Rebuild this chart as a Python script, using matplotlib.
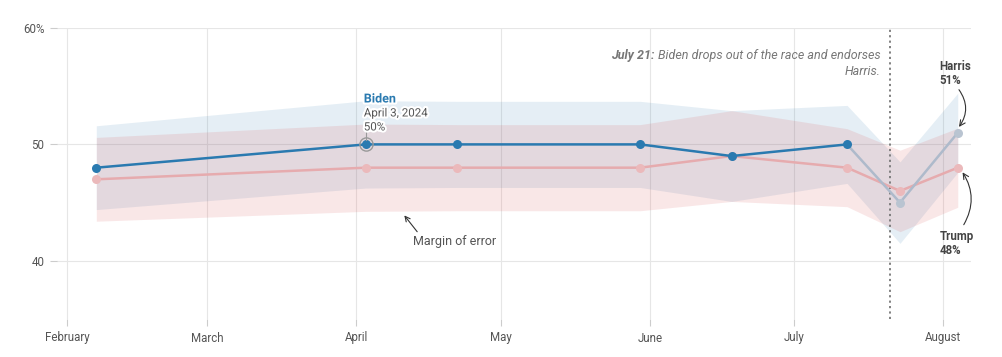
import numpy as np
import matplotlib.pyplot as plt
import matplotlib.patheffects as pe
from matplotlib.transforms import offset_copy
from datetime import datetime

plt.rcParams['font.family'] = ['Roboto', 'DejaVu Sans']

# poll dates and values
dates = ['2024-02-07', '2024-04-03', '2024-04-22', '2024-05-30', '2024-06-18',
         '2024-07-12', '2024-07-23', '2024-08-04']
dem = [48, 50, 50, 50, 49, 50, 45, 51]        # Biden then Harris
trump = [47, 48, 48, 48, 49, 48, 46, 48]
moe = [3.6, 3.75, 3.7, 3.7, 3.9, 3.35, 3.5, 3.4]
n_biden = 6   # first 6 polls are Biden

month_ticks = ['2024-02-01', '2024-03-01', '2024-04-01', '2024-05-01',
               '2024-06-01', '2024-07-01', '2024-08-01']
month_labels = ['February', 'March', 'April', 'May', 'June', 'July', 'August']
y_ticks = [40, 50, 60]
y_labels = ['40', '50', '60%']
dropout = '2024-07-21'

d = [datetime.fromisoformat(s) for s in dates]
dem = np.array(dem, float)
trump = np.array(trump, float)
moe = np.array(moe)

blue = '#2a7ab0'
red = '#d8474a'
grey = '#555555'

fig = plt.figure(figsize=(10.02, 3.57), dpi=100)
ax = fig.add_axes([57/1002, 1-319/357, (971-57)/1002, (319-28)/357])

ax.fill_between(d, dem-moe, dem+moe, color=blue, alpha=0.12, lw=0)
ax.fill_between(d, trump-moe, trump+moe, color=red, alpha=0.13, lw=0)

ax.plot(d, trump, color='#e6abae', lw=1.8, marker='o', ms=6.5, mew=0,
        mfc='#ebb9bb', zorder=3)
ax.plot(d[n_biden-1:], dem[n_biden-1:], color='#aebacb', lw=1.8, marker='o',
        ms=6.5, mew=0, mfc='#b9c4d1', zorder=3, markevery=[1, 2])
ax.plot(d[:n_biden], dem[:n_biden], color=blue, lw=1.8, marker='o', ms=6.5,
        mew=0, zorder=4)
# highlighted point
ax.plot(d[1], dem[1], 'o', ms=9.5, mfc='none', mec='#999999', mew=1, zorder=5)

ax.axvline(datetime.fromisoformat(dropout), color='#777777', lw=1.3,
           ls=(0, (1.2, 1.8)), zorder=2)

halo = [pe.withStroke(linewidth=3, foreground='white')]
tl = offset_copy(ax.transData, fig=fig, x=-2, y=0, units='dots')
ax.plot([d[1], d[1]], [50.35, 51.3], color='#999999', lw=0.8, zorder=4)
ax.text(d[1], 53.9, 'Biden', color=blue, fontsize=9, fontweight='bold',
        ha='left', va='center', path_effects=halo, zorder=6, transform=tl)
ax.text(d[1], 52.7, 'April 3, 2024', color=grey, fontsize=8.3, ha='left',
        va='center', path_effects=halo, zorder=6, transform=tl)
ax.text(d[1], 51.5, '50%', color=grey, fontsize=8.3, ha='left',
        va='center', path_effects=halo, zorder=6, transform=tl)

ax.annotate('Margin of error', xy=(datetime(2024, 4, 11), 43.9),
            xytext=(datetime(2024, 4, 12, 18), 41.7), fontsize=9, color=grey,
            ha='left', va='center',
            arrowprops=dict(arrowstyle='->', color='#333333', lw=0.8,
                            shrinkA=0, shrinkB=0, relpos=(0.08, 1.0)))

# dropout note, bold lead-in placed left of the italic text
xr = datetime(2024, 7, 19)
note = ax.text(xr, 57.6, 'Biden drops out of the race and endorses',
               fontsize=9, color='#777777', fontstyle='italic', ha='right',
               va='center')
ax.text(xr, 56.3, 'Harris.', fontsize=9, color='#777777',
        fontstyle='italic', ha='right', va='center')
fig.canvas.draw()
bb = note.get_window_extent()
x0 = ax.transData.inverted().transform((bb.x0 + 4, 0))[0]
ax.text(x0, 57.6, 'July 21:', fontsize=9, color='#777777',
        fontstyle='italic', fontweight='bold', ha='right', va='center')

xl = datetime(2024, 7, 31, 6)
ax.text(xl, 56.7, 'Harris', fontsize=8.3, color='#444444',
        fontweight='bold', ha='left', va='center')
ax.text(xl, 55.5, '51%', fontsize=8.3, color='#444444',
        fontweight='bold', ha='left', va='center')
ax.text(xl, 42.1, 'Trump', fontsize=8.3, color='#444444',
        fontweight='bold', ha='left', va='center')
ax.text(xl, 40.9, '48%', fontsize=8.3, color='#444444',
        fontweight='bold', ha='left', va='center')
ax.annotate('', xy=(datetime(2024, 8, 4, 6), 51.5),
            xytext=(datetime(2024, 8, 4, 6), 54.7),
            arrowprops=dict(arrowstyle='->', color='#333333', lw=0.8,
                            connectionstyle='arc3,rad=-0.35',
                            shrinkA=0, shrinkB=0))
ax.annotate('', xy=(datetime(2024, 8, 5), 47.6),
            xytext=(datetime(2024, 8, 5, 6), 43.1),
            arrowprops=dict(arrowstyle='->', color='#333333', lw=0.8,
                            connectionstyle='arc3,rad=0.3',
                            shrinkA=0, shrinkB=0))

ax.set_xlim(datetime(2024, 1, 29, 20), datetime(2024, 8, 6, 18))
ax.set_ylim(35, 60)
ax.set_xticks([datetime.fromisoformat(s) for s in month_ticks])
ax.set_xticklabels(month_labels)
ax.set_yticks(y_ticks)
ax.set_yticklabels(y_labels)
ax.grid(True, color='#e6e6e6', lw=0.8)
ax.set_axisbelow(True)
for s in ax.spines.values():
    s.set_visible(False)
ax.tick_params(axis='both', colors='#cccccc', labelcolor=grey, labelsize=8.3,
               length=5, width=0.8)
ax.tick_params(axis='x', pad=4)
ax.tick_params(axis='y', pad=4)

fig.savefig('out.png', dpi=100)
